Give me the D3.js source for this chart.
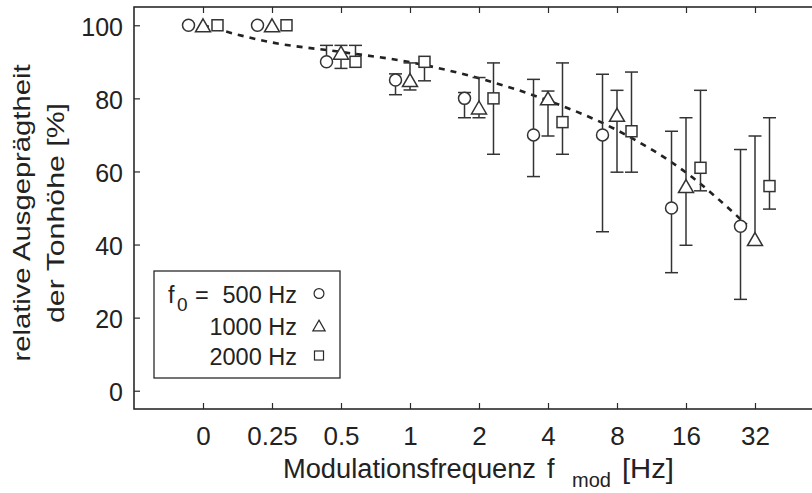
<!DOCTYPE html>
<html><head><meta charset="utf-8">
<script src="https://cdn.jsdelivr.net/npm/d3@7"></script>
<style>body{margin:0;background:#fff}svg{display:block}text{font-family:"Liberation Sans",Arial,sans-serif;fill:#222}</style>
</head><body><svg id="c" width="812" height="493"></svg>
<script>
const categories = ["0","0.25","0.5","1","2","4","8","16","32"];
const yTicks = [0,20,40,60,80,100];
const mean500 = [100,100,90,85,80,70,70,50,45];
const low500  = [100,100,90,81,74.7,58.6,43.5,32.3,25];
const high500 = [100,100,94.5,86.7,81.6,85.2,86.6,71,66];
const mean1000 = [100,100,92.5,85,77.5,80,75.5,56,41.5];
const low1000  = [100,100,88.2,82.3,74.7,69.7,59.8,39.8,41.5];
const high1000 = [100,100,94.5,89.7,85.7,82,82.2,74.7,69.7];
const mean2000 = [100,100,90,90,80,73.5,71,61,56];
const low2000  = [100,100,90,84.8,64.7,64.7,59.8,54.7,49.7];
const high2000 = [100,100,94.5,90,89.7,89.7,87.2,82.2,74.7];
const fitIdx = [0,1,2,3,4,5,6,7,7.88];
const fitVal = [100,95.3,92.7,89.9,85.5,79.4,71.3,59.7,45.4];
const legendLabels = ["500 Hz","1000 Hz","2000 Hz"];

const svg = d3.select("#c");
const x = d3.scaleLinear().domain([-1,9]).range([134,824]);
const y = d3.scaleLinear().domain([-5,105]).range([409,7]);
const ink = "#2a2a2a";
const FF = "Liberation Sans, Arial, sans-serif";

// frame
svg.append("rect").attr("x",134).attr("y",7).attr("width",690).attr("height",402)
  .attr("fill","none").attr("stroke",ink).attr("stroke-width",1.6);

// x ticks (bottom & top, inward)
const xb = d3.axisBottom(x).tickValues(d3.range(categories.length)).tickFormat(i=>categories[i]).tickSizeInner(-6).tickSizeOuter(0).tickPadding(18);
const gxb = svg.append("g").attr("transform","translate(0,409)").call(xb);
gxb.select(".domain").remove();
gxb.selectAll("line").attr("stroke",ink).attr("stroke-width",1.2);
gxb.selectAll("text").attr("font-size",26).attr("fill","#222").attr("font-family",FF);
const xt = d3.axisTop(x).tickValues(d3.range(categories.length)).tickFormat("").tickSizeInner(-6).tickSizeOuter(0);
const gxt = svg.append("g").attr("transform","translate(0,7)").call(xt);
gxt.select(".domain").remove();
gxt.selectAll("line").attr("stroke",ink).attr("stroke-width",1.2);

// y ticks
const ya = d3.axisLeft(y).tickValues(yTicks).tickSizeInner(-6).tickSizeOuter(0).tickPadding(11);
const gy = svg.append("g").attr("transform","translate(134,0)").call(ya);
gy.select(".domain").remove();
gy.selectAll("line").attr("stroke",ink).attr("stroke-width",1.2);
gy.selectAll("text").attr("font-size",25).attr("fill","#222").attr("font-family",FF).attr("dy","0.4em");

// axis titles
const xtT = svg.append("g").attr("font-size",27);
xtT.append("text").attr("x",283).attr("y",478).attr("textLength",253).attr("lengthAdjust","spacingAndGlyphs").text("Modulationsfrequenz");
xtT.append("text").attr("x",547).attr("y",478).text("f");
xtT.append("text").attr("x",572).attr("y",487).attr("font-size",20).text("mod");
xtT.append("text").attr("x",622).attr("y",478).attr("textLength",52).attr("lengthAdjust","spacingAndGlyphs").text("[Hz]");
const yl = svg.append("text").attr("transform","translate(0,213) rotate(-90)").attr("text-anchor","middle").attr("font-size",24);
yl.append("tspan").attr("x",0).attr("y",30).attr("textLength",297).attr("lengthAdjust","spacingAndGlyphs").text("relative Ausgeprägtheit");
yl.append("tspan").attr("x",0).attr("y",64).attr("textLength",220).attr("lengthAdjust","spacingAndGlyphs").text("der Tonhöhe [%]");

// fit line
svg.append("path").datum(d3.range(fitIdx.length))
  .attr("d", d3.line().x(i=>x(fitIdx[i])).y(i=>y(fitVal[i])).curve(d3.curveMonotoneX))
  .attr("fill","none").attr("stroke","#222").attr("stroke-width",2.6).attr("stroke-dasharray","6,6");

// series
const series = [
  {mean:mean500, low:low500, high:high500, off:-0.21, shape:"circle"},
  {mean:mean1000, low:low1000, high:high1000, off:0, shape:"triangle"},
  {mean:mean2000, low:low2000, high:high2000, off:0.21, shape:"square"}
];
const cap = 6.5;
function marker(g, shape, cx, cy, s){
  if(shape==="circle") g.append("circle").attr("cx",cx).attr("cy",cy).attr("r",6*s);
  else if(shape==="triangle"){
    const h=6.5*s; g.append("path").attr("d",`M${cx},${cy-h}L${cx+7.5*s},${cy+h}L${cx-7.5*s},${cy+h}Z`);
  } else g.append("rect").attr("x",cx-5.5*s).attr("y",cy-5.5*s).attr("width",11*s).attr("height",11*s);
}
series.forEach(s=>{
  const g = svg.append("g").attr("stroke","#333").attr("stroke-width",1.5).attr("fill","#fff");
  categories.forEach((c,i)=>{
    const cx = x(i+s.off);
    if(s.high[i]>s.mean[i]){
      g.append("line").attr("x1",cx).attr("x2",cx).attr("y1",y(s.mean[i])).attr("y2",y(s.high[i]));
      g.append("line").attr("x1",cx-cap).attr("x2",cx+cap).attr("y1",y(s.high[i])).attr("y2",y(s.high[i]));
    }
    if(s.low[i]<s.mean[i]){
      g.append("line").attr("x1",cx).attr("x2",cx).attr("y1",y(s.mean[i])).attr("y2",y(s.low[i]));
      g.append("line").attr("x1",cx-cap).attr("x2",cx+cap).attr("y1",y(s.low[i])).attr("y2",y(s.low[i]));
    }
  });
  categories.forEach((c,i)=>marker(g, s.shape, x(i+s.off), y(s.mean[i]), 1));
});

// legend
svg.append("rect").attr("x",154).attr("y",271).attr("width",186).attr("height",107)
  .attr("fill","#fff").attr("stroke",ink).attr("stroke-width",1.3);
const lg = svg.append("g").attr("font-size",23.5);
const ly = [303,335,365];
lg.append("text").attr("x",168).attr("y",ly[0]).text("f");
lg.append("text").attr("x",177).attr("y",ly[0]+8).attr("font-size",19).text("0");
lg.append("text").attr("x",195).attr("y",ly[0]).text("=");
legendLabels.forEach((t,k)=>{
  lg.append("text").attr("x",297).attr("y",ly[k]).attr("text-anchor","end").text(t);
  const mg = lg.append("g").attr("stroke","#2a2a2a").attr("stroke-width",1.2).attr("fill","#fff");
  marker(mg, series[k].shape, 319, ly[k]-9.5, 0.82);
});
</script></body></html>
